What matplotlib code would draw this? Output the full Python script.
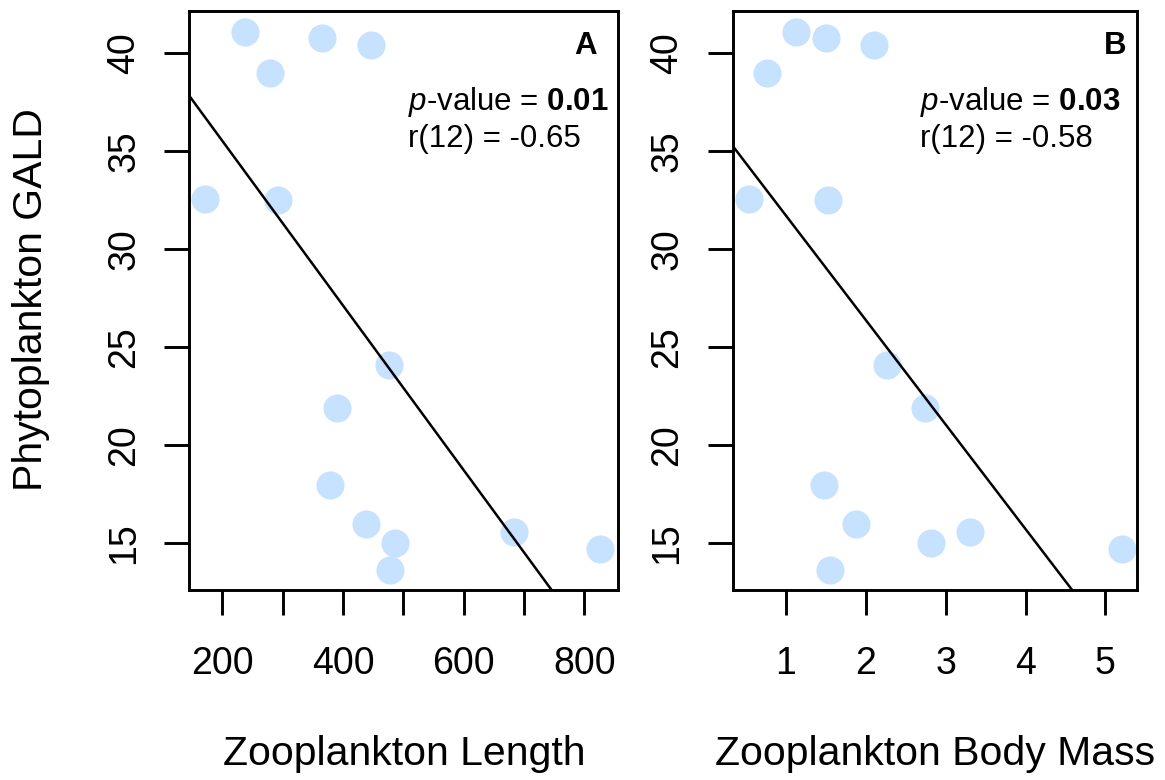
import numpy as np
import matplotlib
matplotlib.use('Agg')
import matplotlib.pyplot as plt

plt.rcParams['font.family'] = ['Liberation Sans', 'DejaVu Sans']
plt.rcParams['mathtext.fontset'] = 'custom'
plt.rcParams['mathtext.rm'] = 'Liberation Sans'
plt.rcParams['mathtext.it'] = 'Liberation Sans:italic'
plt.rcParams['mathtext.bf'] = 'Liberation Sans:bold'

# data
gald = [41.1, 40.8, 40.4, 39.0, 32.55, 32.5, 24.1, 21.9, 18.0, 16.0, 15.0, 13.65, 15.6, 14.7]
zoo_length = [237, 365, 447, 278.5, 170.5, 293, 476, 390, 378, 439, 486, 478, 684, 826]
zoo_mass = [1.12, 1.50, 2.10, 0.76, 0.53, 1.52, 2.27, 2.74, 1.48, 1.88, 2.81, 1.55, 3.30, 5.21]

y_ticks = [15, 20, 25, 30, 35, 40]
len_ticks = [200, 300, 400, 500, 600, 700, 800]
len_labels = ['200', '', '400', '', '600', '', '800']
mass_ticks = [1, 2, 3, 4, 5]

panel_letters = ['A', 'B']
p_values = ['0.01', '0.03']
r_texts = ['r(12) = -0.65', 'r(12) = -0.58']

W, H = 1165, 780
fig = plt.figure(figsize=(W / 100, H / 100), dpi=100)

def px_box(l, r, t, b):
    return [l / W, 1 - b / H, (r - l) / W, (b - t) / H]

axA = fig.add_axes(px_box(189.3, 618.3, 10.7, 590))
axB = fig.add_axes(px_box(732.7, 1137.3, 10.7, 590))

pt_color = '#C6E2FF'

panels = [
    (axA, zoo_length, len_ticks, len_labels, (145.3, 856.4), 'Zooplankton Length'),
    (axB, zoo_mass, mass_ticks, [str(t) for t in mass_ticks], (0.332, 5.40), 'Zooplankton Body Mass'),
]

# text layout (pixels): letter right edge, block left edge
letter_x = [596.7, 1126.0]
block_x = [408.5, 920.4]

for i, (ax, xs, xt, xl, xlim, xlabel) in enumerate(panels):
    ax.scatter(xs, gald, s=410, color=pt_color, linewidths=0, zorder=2)
    m, b = np.polyfit(xs, gald, 1)
    ax.axline((0, b), slope=m, color='black', lw=1.8, zorder=3)
    ax.set_xlim(*xlim)
    ax.set_ylim(12.62, 42.17)
    ax.set_xticks(xt, xl)
    ax.set_yticks(y_ticks, [str(t) for t in y_ticks])
    for s in ax.spines.values():
        s.set_linewidth(2.1)
    ax.tick_params(length=18, width=2.1, labelsize=27)
    ax.tick_params(axis='x', pad=22.5)
    ax.tick_params(axis='y', pad=16, labelrotation=90)
    for lbl in ax.get_yticklabels():
        lbl.set_va('center')

    bb = ax.get_position()
    cx = (bb.x0 + bb.x1) / 2
    fig.text(cx, 1 - 765 / H, xlabel, fontsize=29.5, ha='center', va='baseline')

    fig.text(letter_x[i] / W, 1 - 54 / H, panel_letters[i], fontsize=22.5,
             fontweight='bold', ha='right', va='baseline')
    fig.text(block_x[i] / W, 1 - 110 / H, r'$\mathit{p}$-value = $\mathbf{' + p_values[i] + '}$',
             fontsize=22.5, ha='left', va='baseline')
    fig.text(block_x[i] / W, 1 - 147 / H, r_texts[i], fontsize=22.5, ha='left', va='baseline')

fig.text(41.7 / W, 1 - 300 / H, 'Phytoplankton GALD', fontsize=29.5, rotation=90,
         rotation_mode='anchor', ha='center', va='baseline')

fig.savefig('out.png', dpi=100)
